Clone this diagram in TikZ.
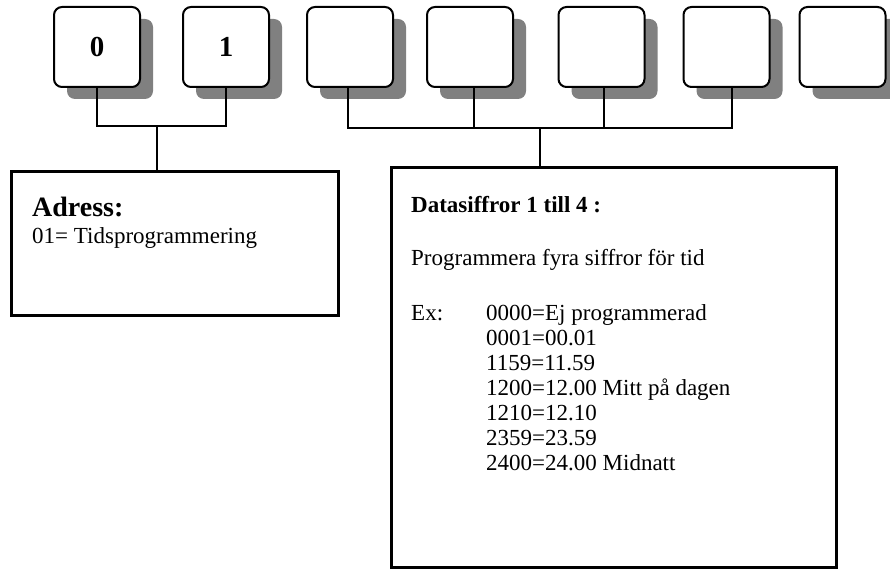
\documentclass[tikz,border=0pt]{standalone}
\usepackage{fontspec}
\setmainfont{Liberation Serif}
\usetikzlibrary{shadows}
\definecolor{shadowgray}{HTML}{808080}
\tikzset{
  digitbox/.style={draw=black, line width=2pt, fill=white, rounded corners=8pt,
    minimum width=86pt, minimum height=80pt, inner sep=0pt,
    font=\fontsize{29}{32}\selectfont\bfseries,
    drop shadow={shadow xshift=13pt, shadow yshift=-12pt, opacity=1, fill=shadowgray}},
  infobox/.style={draw=black, line width=3pt, inner sep=0pt},
  wire/.style={line width=2.5pt, line cap=rect},
  txt/.style={anchor=base west, inner sep=0pt, font=\fontsize{23}{25}\selectfont},
  btxt/.style={txt, font=\fontsize{23}{25}\selectfont\bfseries},
}
\begin{document}
\begin{tikzpicture}[x=1pt,y=-1pt]
\useasboundingbox (0,0) rectangle (890,569);
% digit boxes
\node[digitbox] (b1) at (97,47) {0};
\node[digitbox] (b2) at (226,47) {1};
\node[digitbox] (b3) at (350,47) {};
\node[digitbox] (b4) at (470,47) {};
\node[digitbox] (b5) at (601.5,47) {};
\node[digitbox] (b6) at (726.5,47) {};
\node[digitbox] (b7) at (842.5,47) {};
% info boxes
\node[infobox, minimum width=327pt, minimum height=143pt] (adr) at (174.5,243.5) {};
\node[infobox, minimum width=445pt, minimum height=399pt] (dat) at (613.5,367.5) {};
% junctions
\coordinate (ja) at (157,126);
\coordinate (jd) at (540,128);
% connectors left
\draw[wire] (b1.south) |- (ja);
\draw[wire] (b2.south) |- (ja);
\draw[wire] (ja) -- (ja |- adr.north);
% connectors right
\draw[wire] ([xshift=-2pt]b3.south) |- (jd);
\draw[wire] ([xshift=4pt]b4.south) |- (jd);
\draw[wire] ([xshift=2.5pt]b5.south) |- (jd);
\draw[wire] ([xshift=5.5pt]b6.south) |- (jd);
\draw[wire] (jd) -- (jd |- dat.north);
% texts
\node[txt, font=\fontsize{28}{30}\selectfont\bfseries] (t1) at (32,216) {Adress:};
\node[txt] (t2) at (32,243) {01= Tidsprogrammering};
\node[btxt] (t3) at (411,212) {Datasiffror 1 till 4 :};
\node[txt] (t4) at (411,265) {Programmera fyra siffror för tid};
\node[txt] (t5) at (411,320) {Ex:};
\node[txt] (e1) at (486,320) {0000=Ej programmerad};
\node[txt] (e2) at (486,345) {0001=00.01};
\node[txt] (e3) at (486,370) {1159=11.59};
\node[txt] (e4) at (486,395) {1200=12.00 Mitt på dagen};
\node[txt] (e5) at (486,420) {1210=12.10};
\node[txt] (e6) at (486,445) {2359=23.59};
\node[txt] (e7) at (486,470) {2400=24.00 Midnatt};
\end{tikzpicture}
\end{document}
